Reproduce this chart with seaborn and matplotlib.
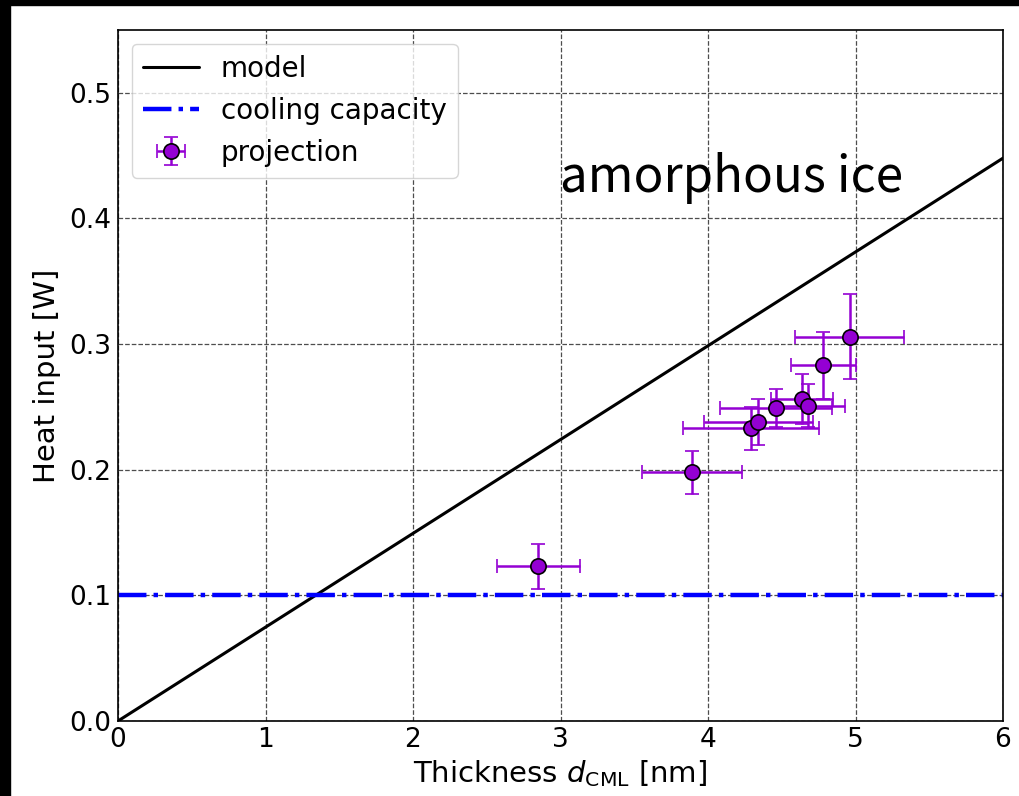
import matplotlib
matplotlib.use("Agg")
import matplotlib.pyplot as plt
import seaborn as sns
import numpy as np
from matplotlib.patches import Rectangle

# ---- data ----
model_x = [0.0, 6.0]
model_y = [0.0, 0.448]
cool_x = [0.0, 6.0]
cool_y = [0.1, 0.1]
proj_x = [2.85, 3.89, 4.29, 4.34, 4.46, 4.64, 4.68, 4.78, 4.96]
proj_y = [0.123, 0.198, 0.233, 0.238, 0.249, 0.256, 0.251, 0.283, 0.306]
proj_xerr = [0.28, 0.34, 0.46, 0.37, 0.38, 0.21, 0.25, 0.22, 0.37]
proj_yerr = [0.018, 0.017, 0.017, 0.018, 0.015, 0.020, 0.017, 0.027, 0.034]
x_ticks = [0, 1, 2, 3, 4, 5, 6]
y_ticks = [0.0, 0.1, 0.2, 0.3, 0.4, 0.5]

sns.set_style("white")
plt.rcParams['font.family'] = ['DejaVu Sans']
plt.rcParams['text.color'] = 'black'
plt.rcParams['axes.labelcolor'] = 'black'
plt.rcParams['xtick.color'] = 'black'
plt.rcParams['ytick.color'] = 'black'

fig = plt.figure(figsize=(10.2, 7.96), dpi=100)
ax = fig.add_axes([118/1020, 1 - 721/796, (1003-118)/1020, (721-30)/796])

sns.lineplot(x=model_x, y=model_y, color='black', lw=2.2, label='model', ax=ax)
sns.lineplot(x=cool_x, y=cool_y, color='blue', lw=3.2, linestyle='-.',
             label='cooling capacity', ax=ax)
ax.errorbar(proj_x, proj_y, xerr=proj_xerr, yerr=proj_yerr, fmt='o',
            color='darkviolet', ecolor='darkviolet', mfc='darkviolet',
            mec='black', ms=11, mew=1.2, elinewidth=1.8, capsize=5,
            capthick=1.5, label='projection', zorder=5)

ax.set_xlim(0, 6)
ax.set_ylim(0, 0.55)
ax.set_xticks(x_ticks)
ax.set_yticks(y_ticks)
ax.set_xticklabels([str(t) for t in x_ticks])
ax.set_yticklabels([f"{t:.1f}" for t in y_ticks])
ax.tick_params(direction='in', length=0, labelsize=19)
ax.tick_params(axis='y', pad=5)
ax.tick_params(axis='x', pad=4)
ax.grid(True, color='0.3', linestyle='--', linewidth=0.9)
for s in ax.spines.values():
    s.set_color('black')
    s.set_linewidth(1.2)

ax.set_xlabel(r'Thickness $d_{\mathrm{CML}}$ [nm]', fontsize=21, labelpad=4)
ax.set_ylabel('Heat input [W]', fontsize=21, labelpad=6)

ax.text(3.0, 0.421, 'amorphous ice', fontsize=35.5, color='black',
        family=['Noto Sans CJK JP', 'DejaVu Sans'], va='baseline', ha='left')

leg = ax.legend(loc='upper left', fontsize=20, frameon=True, fancybox=True,
                framealpha=0.8, edgecolor='0.8', borderaxespad=0.5)

# black border bands as in reference
fig.patches.append(Rectangle((0, 1 - 4.5/796), 1, 4.5/796, transform=fig.transFigure,
                             color='black', zorder=10))
fig.patches.append(Rectangle((0, 0), 10/1020, 1, transform=fig.transFigure,
                             color='black', zorder=10))

fig.savefig('out.png', dpi=100)
